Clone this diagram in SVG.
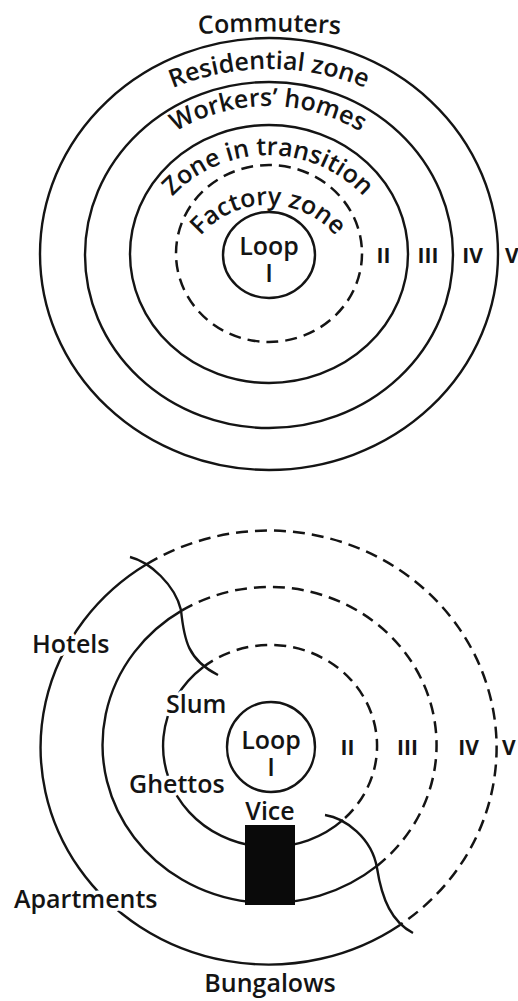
<svg xmlns="http://www.w3.org/2000/svg" width="518" height="1001" viewBox="0 0 518 1001">
<style>
.ln{fill:none;stroke:#141414;stroke-width:2.4}
.ds{fill:none;stroke:#141414;stroke-width:2.5;stroke-dasharray:12 7}
.t{font-family:"Open Sans","Noto Sans","Liberation Sans",sans-serif;font-weight:600;font-size:25px;fill:#141414}
.rn{font-family:"Open Sans","Noto Sans","Liberation Sans",sans-serif;font-weight:700;font-size:21px;fill:#141414}
.halo{stroke:#fff;stroke-width:7;paint-order:stroke;stroke-linejoin:round}
</style>
<defs>
<path id="pCommuters" d="M 130 42.8 A 860 860 0 0 1 409 42.8"/>
<path id="pResidential" d="M 100 133.4 A 254 254 0 0 1 438 133.4"/>
<path id="pWorkers" d="M 108 206 A 178 178 0 0 1 428 206"/>
<path id="pTransition" d="M 143 247 A 131 131 0 0 1 393 247"/>
<path id="pFactory" d="M 183 267.6 A 89 89 0 0 1 353 267.6"/>
</defs>
<rect width="518" height="1001" fill="#fff"/>

<!-- Top diagram: Burgess concentric zones -->
<g id="top-diagram">
  <g id="ring-V"><ellipse class="ln" cx="269" cy="254" rx="229" ry="216"/></g>
  <g id="ring-IV"><ellipse class="ln" cx="269" cy="255" rx="184" ry="173"/></g>
  <g id="ring-III"><ellipse class="ln" cx="269" cy="254" rx="139" ry="129"/></g>
  <g id="ring-II"><ellipse class="ds" cx="269" cy="253.5" rx="93" ry="88.5"/></g>
  <g id="loop-top">
    <ellipse class="ln" cx="269" cy="255" rx="46" ry="43"/>
    <text class="t" x="269" y="255" text-anchor="middle">Loop</text>
    <text class="t" x="269" y="282" text-anchor="middle">I</text>
  </g>
  <g id="zone-labels-top">
    <text class="t"><textPath href="#pCommuters" startOffset="50%" text-anchor="middle">Commuters</textPath></text>
    <text class="t"><textPath href="#pResidential" startOffset="50%" text-anchor="middle">Residential zone</textPath></text>
    <text class="t"><textPath href="#pWorkers" startOffset="50%" text-anchor="middle">Workers’ homes</textPath></text>
    <text class="t"><textPath href="#pTransition" startOffset="50%" text-anchor="middle">Zone in transition</textPath></text>
    <text class="t"><textPath href="#pFactory" startOffset="50%" text-anchor="middle">Factory zone</textPath></text>
  </g>
  <g id="numerals-top">
    <text class="rn" x="383.5" y="263" text-anchor="middle">II</text>
    <text class="rn" x="428" y="263" text-anchor="middle">III</text>
    <text class="rn" x="472.5" y="263" text-anchor="middle">IV</text>
    <text class="rn" x="505" y="263">V</text>
  </g>
</g>

<!-- Bottom diagram: zones with sector overlays -->
<g id="bottom-diagram">
  <g id="ring-outer">
    <path class="ln" d="M 147 564 A 228 217 0 1 0 400 924.9"/>
    <path class="ds" d="M 147 564 A 228 217 0 0 1 400 924.9"/>
  </g>
  <g id="ring-middle">
    <path class="ln" d="M 182 610.4 A 167 158 0 1 0 377 865.9"/>
    <path class="ds" d="M 182 610.4 A 167 158 0 0 1 377 865.9"/>
  </g>
  <g id="ring-inner">
    <path class="ln" d="M 203 667.25 A 107 101 0 1 0 343 819.85"/>
    <path class="ds" d="M 203 667.25 A 107 101 0 0 1 343 819.85"/>
  </g>
  <g id="connectors">
    <path id="hotels-line" class="ln" d="M 130 557 C 150 562, 175 585, 181 610 C 184 640, 188 660, 218 675"/>
    <path id="vice-line" class="ln" d="M 325 815 C 345 818, 372 838, 377 868 C 382 900, 392 922, 413 933"/>
  </g>
  <g id="vice">
    <rect x="245" y="825" width="50" height="80" fill="#0a0a0a"/>
    <text class="t" x="270" y="820" text-anchor="middle">Vice</text>
  </g>
  <g id="loop-bottom">
    <ellipse class="ln" cx="271" cy="747" rx="44" ry="45"/>
    <text class="t" x="271" y="749" text-anchor="middle">Loop</text>
    <text class="t" x="271" y="776" text-anchor="middle">I</text>
  </g>
  <g id="hotels"><text class="t halo" x="32" y="653">Hotels</text></g>
  <g id="slum"><text class="t halo" x="166" y="713">Slum</text></g>
  <g id="ghettos"><text class="t halo" x="129" y="793">Ghettos</text></g>
  <g id="apartments"><text class="t halo" x="14" y="908">Apartments</text></g>
  <g id="bungalows"><text class="t" x="270" y="992" text-anchor="middle">Bungalows</text></g>
  <g id="numerals-bottom">
    <text class="rn" x="347.5" y="755" text-anchor="middle">II</text>
    <text class="rn" x="407.5" y="755" text-anchor="middle">III</text>
    <text class="rn" x="468.5" y="755" text-anchor="middle">IV</text>
    <text class="rn" x="502" y="755">V</text>
  </g>
</g>
</svg>
